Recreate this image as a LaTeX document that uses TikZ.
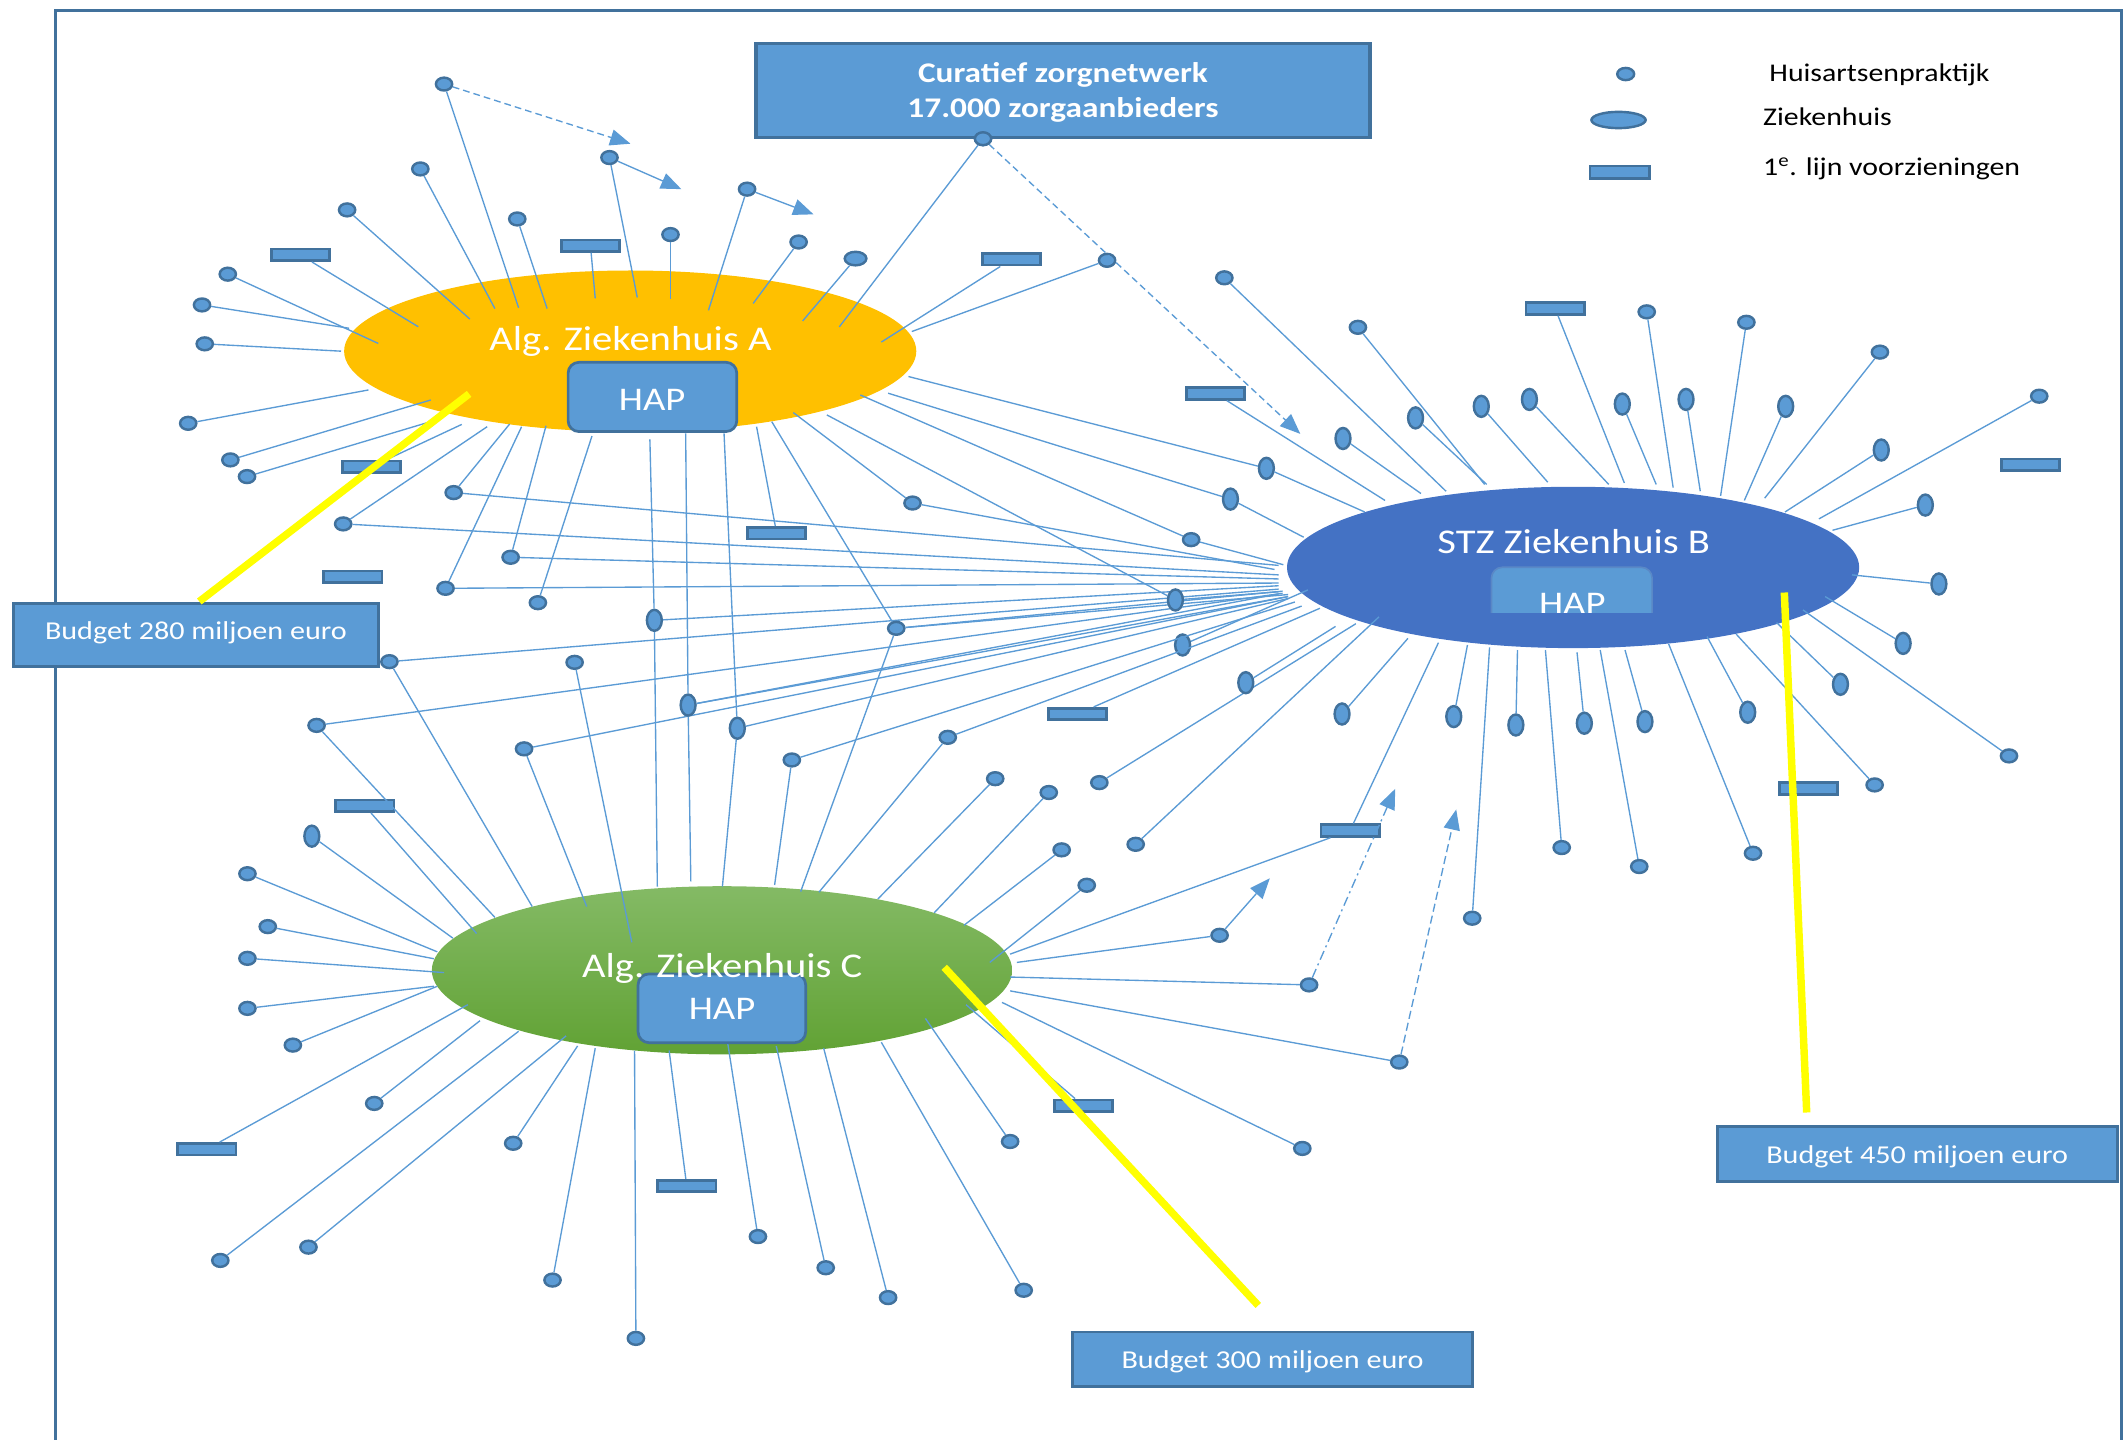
\documentclass[tikz,border=0pt]{standalone}
\usepackage{fontspec}
\setmainfont{Carlito}
\usepackage{graphicx}
\usetikzlibrary{shapes.geometric,arrows.meta}
\definecolor{acc}{HTML}{5B9BD5}
\definecolor{dk}{HTML}{41719C}
\definecolor{orA}{HTML}{FFC000}
\definecolor{blB}{HTML}{4472C4}
\definecolor{grT}{HTML}{84BA65}
\definecolor{grB}{HTML}{61A234}
\definecolor{yl}{HTML}{FFFF00}
\definecolor{hapbd}{HTML}{5A88C6}
\newcommand{\wx}[1]{\scalebox{1.17}[1]{#1}}
\newcommand{\rays}[2]{\foreach \ux/\vy [count=\kk] in {#2} {\coordinate (#1e\kk) at (\ux,\vy); \draw[sp] (#1) -- (#1e\kk);}}
\tikzset{
 hd/.style={ellipse,draw=dk,fill=acc,line width=1.8pt,minimum width=12pt,minimum height=9.5pt,inner sep=0pt},
 vd/.style={hd,minimum width=11pt,minimum height=15.5pt},
 hz/.style={hd,minimum width=16pt,minimum height=10pt},
 fr/.style={rectangle,draw=dk,fill=acc,line width=2pt,minimum width=43pt,minimum height=8.5pt,inner sep=0pt},
 sp/.style={draw=acc,line width=1pt},
 arr/.style={draw=acc,line width=1pt,-{Triangle[length=15pt,width=12pt]}},
 frame/.style={draw=dk,line width=2.2pt},
 bbox/.style={rectangle,draw=dk,fill=acc,line width=2pt,inner sep=0pt},
 hapbox/.style={rectangle,rounded corners=8pt,draw=dk,fill=acc,line width=2pt,inner sep=0pt},
 lbl/.style={text=white,inner sep=0pt,font=\fontsize{25.6}{30}\selectfont},
 hapt/.style={text=white,inner sep=0pt,font=\fontsize{24.4}{28}\selectfont},
 bt/.style={text=white,inner sep=0pt,font=\fontsize{19}{23}\selectfont},
 ct/.style={text=white,inner sep=0pt,font=\fontsize{21}{25}\selectfont\bfseries},
 lg/.style={text=black,inner sep=0pt,font=\fontsize{18.8}{22}\selectfont},
 yline/.style={draw=yl,line width=5.5pt}
}
\begin{document}
\begin{tikzpicture}[x=1pt,y=-1pt]
\useasboundingbox (0,0) rectangle (1568,1062);
\coordinate (f1) at (41,1075);
\coordinate (f2) at (41,8);
\coordinate (f3) at (1565,8);
\coordinate (f4) at (1565,1075);
\draw[frame] (f1) -- (f2) -- (f3) -- (f4);

% hospitals
\node[ellipse,fill=orA,minimum width=422pt,minimum height=119pt,inner sep=0pt] (A) at (464.8,259) {};
\node[ellipse,fill=blB,minimum width=422pt,minimum height=119pt,inner sep=0pt] (B) at (1160.2,418.5) {};
\node[ellipse,top color=grT,bottom color=grB,minimum width=428pt,minimum height=124pt,inner sep=0pt] (C) at (532.5,715.6) {};

% single small dots with one spoke
\foreach \x/\y/\u/\v [count=\i] in {
310/124.6/365/227.6, 256/154.8/346.5/235.3, 168/202.2/279/253.3, 149/224.9/257.5/242.1,
151/253.6/251.5/259, 381.5/161.5/403.5/227.6, 494.5/173/494.5/220.5, 589/178.5/555.5/223.8,
816.5/192/672.5/244.5, 138.8/312.2/271.8/287.6, 169.9/339.2/317.7/295, 182.2/351.5/315.2/311.7,
396.7/444.5/436.6/321.6, 903/204.9/1066.5/362.3, 1001.5/241.4/1095/357.3, 1214.5/230/1234/359.6,
1288/237.7/1269/365.7, 1386.5/259.7/1301.5/367.4, 1504/292.2/1341.5/382.7, 1481.7/557.5/1329.8/449.9,
1382.6/578.9/1280.4/467.6, 1292.9/629.3/1230.7/475, 1209/639.1/1180.2/479.4, 1151.8/625.1/1139.8/479.4,
1085.8/677.2/1098.6/477.4, 810.8/577.2/1000/460, 837.6/622.7/1017/455, 423.8/488.5/466/695,
734/574.3/647.5/663, 773.5/584.5/689/673.2, 783/626.8/711/682.4, 801.5/652.9/730/709.8,
960.5/847/739/739.3, 745/841.9/682.5/751.1, 755/951.6/650/768.7, 655/957/607.5/773.1,
609/935/572.5/771.4, 559/912/536.5/768, 469/987.1/468/774.8, 407.5/944.1/439/773.1,
378.5/843.2/426/771.4, 227.5/919.8/417.5/764, 162.5/929.6/382.5/760.6, 276/813.8/354/752.8,
216/770.8/322.5/727.4, 182.5/743.7/320/727.4, 182.5/706.8/327.5/717.3, 197.5/683.4/320/707.1,
182.5/644.4/322.5/702}
{\node[hd] (h\i) at (\x,\y) {}; \coordinate (he\i) at (\u,\v); \draw[sp] (h\i) -- (he\i);}

% single vertical ovals
\foreach \x/\y/\u/\v [count=\i] in {
1243.5/294.6/1254/362.3, 1196.5/298/1221.5/357.3, 1128/294.6/1186.5/357.3, 1092.5/299.7/1141.5/355.6,
1044/308.2/1096.5/357.3, 990.5/323.4/1048/364, 1317/299.7/1286.5/369.1, 1387.5/331.9/1316.5/377.6,
1420/372.5/1351.5/391.1, 1430/430.7/1365.9/424, 1403.6/474.5/1346.1/440, 1357.4/504.7/1310.3/459.2,
1289/525.3/1259/469.5, 1213.2/532.2/1198.5/479.4, 1168.5/533.4/1163.1/481.1, 1118/534.7/1119.2/479.4,
1072.2/528.5/1082.3/475.7, 989.8/526.6/1038.4/470.8, 918.8/503.5/985/462, 872.2/475.7/964.6/435.1,
230/616.7/334/691.9}
{\node[vd] (v\i) at (\x,\y) {}; \coordinate (ve\i) at (\u,\v); \draw[sp] (v\i) -- (ve\i);}

% single first-line rectangles
\foreach \x/\y/\u/\v [count=\i] in {
221.5/188/308.5/241, 435.5/181.2/439/220.1, 746/191.3/650/252.3, 274/344.2/340.6/313,
572.8/393.3/558/314.7, 1147/227.6/1198/356.2, 896.5/290.2/1021.5/369.1, 794.6/526.6/973.5/448.6,
269/594.3/351.5/688.5, 152.5/847.6/345/741, 506.5/874.7/493.5/774.8, 799/815.5/712.5/741}
{\node[fr] (r\i) at (\x,\y) {}; \coordinate (re\i) at (\u,\v); \draw[sp] (r\i) -- (re\i);}

\node[fr] (rf1) at (260.2,425.3) {};
\node[fr] (rf2) at (1497.5,342.7) {};
\node[fr] (rf3) at (1333.7,581.6) {};

\node[hz] (z1) at (631,190.7) {}; \rays{z1}{592/236.7}

% dots with several connections
\node[hd] (m1) at (327.5,62) {}; \rays{m1}{382.5/227}
\node[hd] (m2) at (449.5,116.2) {}; \rays{m2}{470/219.4}
\node[hd] (m3) at (551,139.5) {}; \rays{m3}{522.5/228.9}
\node[hd] (m4) at (725,102.3) {}; \rays{m4}{619/241.1}
\node[hd] (m5) at (334.6,363.3) {}; \rays{m5}{375.9/312.7,943/417}
\node[hd] (m6) at (253.1,386.4) {}; \rays{m6}{359.3/314.7,943/424}
\node[hd] (m7) at (376.6,411) {}; \rays{m7}{402.7/314,943/427}
\node[hd] (m8) at (328.6,433.9) {}; \rays{m8}{384.7/314.7,943/430}
\node[hd] (m9) at (287.2,488) {}; \rays{m9}{943/434.5,392.5/668.6}
\node[hd] (m10) at (233.5,535) {}; \rays{m10}{946/437.6,365/676.6}
\node[hd] (m11) at (386.5,552.3) {}; \rays{m11}{950/440,432.7/668.6}
\node[hd] (m12) at (584,560.5) {}; \rays{m12}{955/444,571.3/652.7}
\node[hd] (m13) at (661,463.4) {}; \rays{m13}{569.2/311,946/436,950/438.5,590.5/657.6}
\node[hd] (m14) at (673,371) {}; \rays{m14}{585.1/304.3,940/420}
\node[hd] (m15) at (699,543.8) {}; \rays{m15}{960/447,604/658}
\node[hd] (m16) at (878.5,398) {}; \rays{m16}{634.5/291.3,946.5/416.5}
\node[vd] (m17) at (482.6,457.5) {}; \rays{m17}{479.3/324,484.8/653.9,943/432}
\node[vd] (m18) at (507.5,520) {}; \rays{m18}{505.7/319.6,509.5/650,943/438,950/440}
\node[vd] (m19) at (543.8,537.1) {}; \rays{m19}{534/319.6,532.8/653.9,950.5/441.3}
\node[vd] (m20) at (934,345.4) {}; \rays{m20}{670/277.7,1006.5/377.6}
\node[vd] (m21) at (907.5,368.1) {}; \rays{m21}{655/290,961.5/396.2}
\node[vd] (m22) at (866.9,442.5) {}; \rays{m22}{609.8/306,943.5/436.4}
\node[hd] (m23) at (899.5,689.8) {}; \rays{m23}{750/709.8}
\node[hd] (m24) at (965.5,726.4) {}; \rays{m24}{745/720.6}
\node[hd] (m25) at (1032,783.3) {}; \rays{m25}{745/730.8}
\node[fr] (m26) at (995.7,612.6) {}; \rays{m26}{1060.9/474,745/703.7}

% arrows
\coordinate (t1) at (465,106);
\coordinate (t2) at (502.5,139.5);
\coordinate (t3) at (600,158.1);
\coordinate (t4) at (959,320);
\coordinate (t5) at (936.5,647.8);
\coordinate (t6) at (1029,581.8);
\coordinate (t7) at (1074,597);
\draw[arr,dash pattern=on 5pt off 3pt] (m1) -- (t1);
\draw[arr] (m2) -- (t2);
\draw[arr] (m3) -- (t3);
\draw[arr,dash pattern=on 5pt off 3pt] (m4) -- (t4);
\draw[arr] (m23) -- (t5);
\draw[arr,dash pattern=on 7pt off 3pt on 1.5pt off 3pt] (m24) -- (t6);
\draw[arr,dash pattern=on 6pt off 3pt] (m25) -- (t7);

% HAP boxes
\node[hapbox,minimum width=124.4pt,minimum height=51.1pt] (hapA) at (481.2,292.75) {};
\node[hapbox,minimum width=123.6pt,minimum height=50.7pt] (hapC) at (532.4,743.65) {};
\begin{scope}
\clip (1090,405) rectangle (1230,451.8);
\node[rectangle,rounded corners=8pt,draw=hapbd,fill=acc,line width=1.2pt,minimum width=118.5pt,minimum height=60pt,inner sep=0pt] (hapB) at (1159.25,448.4) {};
\node[hapt,anchor=base,text=white] (hapBt) at (1159.6,453) {\wx{HAP}};
\end{scope}

% labels
\node[lbl,anchor=base] (tA) at (465,258.6) {\wx{Alg. Ziekenhuis A}};
\node[lbl,anchor=base] (tB) at (1160.7,408) {\wx{STZ Ziekenhuis B}};
\node[lbl,anchor=base] (tC) at (532.7,720.8) {\wx{Alg. Ziekenhuis C}};
\node[hapt,anchor=base] (hapAt) at (481,303) {\wx{HAP}};
\node[hapt,anchor=base] (hapCt) at (532.5,752.2) {\wx{HAP}};

% budget boxes and yellow pointers
\node[bbox,minimum width=269pt,minimum height=46.4pt] (b1) at (144.5,468.5) {};
\node[bbox,minimum width=295pt,minimum height=40.3pt] (b2) at (938.5,1002.55) {};
\node[bbox,minimum width=295pt,minimum height=40.6pt] (b3) at (1414,851) {};
\node[bt,anchor=base] (b1t) at (144.5,471.7) {\wx{Budget 280 miljoen euro}};
\node[bt,anchor=base] (b2t) at (938.5,1009.2) {\wx{Budget 300 miljoen euro}};
\node[bt,anchor=base] (b3t) at (1414,857.8) {\wx{Budget 450 miljoen euro}};
\coordinate (y1) at (346,290.5);
\coordinate (y2) at (147,443.6);
\coordinate (y3) at (696.4,713.4);
\coordinate (y4) at (928,962.8);
\coordinate (y5) at (1316,437);
\coordinate (y6) at (1332.5,820.5);
\draw[yline] (y1) -- (y2);
\draw[yline] (y3) -- (y4);
\draw[yline] (y5) -- (y6);

% network box
\node[bbox,line width=2.4pt,minimum width=453pt,minimum height=69.4pt] (cur) at (784,66.9) {};
\node[ct,anchor=base] (cur1) at (784,61) {\wx{Curatief zorgnetwerk}};
\node[ct,anchor=base] (cur2) at (784,86.4) {\wx{17.000 zorgaanbieders}};
\node[hd] (m4b) at (725,102.3) {};

% legend
\node[hd,minimum width=12.5pt,minimum height=9pt] (lg1) at (1199,54.6) {};
\node[hd,minimum width=40pt,minimum height=12pt] (lg2) at (1193.7,88.5) {};
\node[fr,minimum width=44pt,minimum height=9pt] (lg3) at (1194.7,127) {};
\node[lg,anchor=base west] (lt1) at (1304.8,60.2) {\wx{Huisartsenpraktijk}};
\node[lg,anchor=base west] (lt2) at (1300.2,92.9) {\wx{Ziekenhuis}};
\node[lg,anchor=base west] (lt3) at (1300.2,129.1) {\wx{1\textsuperscript{e}. lijn voorzieningen}};
\end{tikzpicture}
\end{document}
